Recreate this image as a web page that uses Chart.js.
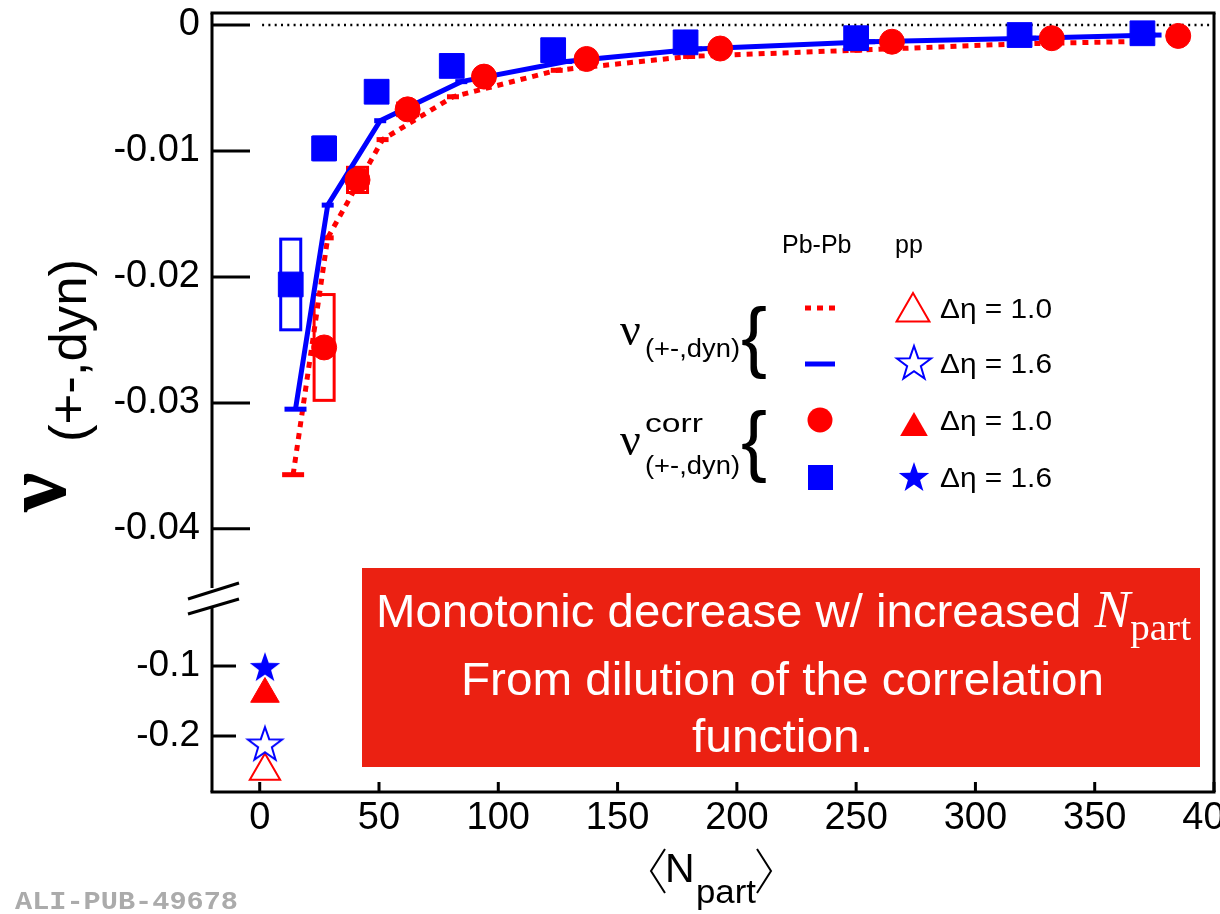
<!DOCTYPE html>
<html>
<head>
<meta charset="utf-8">
<script src="https://cdn.jsdelivr.net/npm/chart.js@4.4.0/dist/chart.umd.min.js"></script>
<style>
  html, body { margin: 0; padding: 0; background: #fff; }
  #wrap { position: relative; width: 1220px; height: 914px; }
</style>
</head>
<body>
<div id="wrap"><canvas id="chart" width="1220" height="914"></canvas></div>
<script>
// Pb-Pb, nu_dyn, delta eta = 1.0 (red dotted line)
const nDynEta10 = [14, 28.5, 51.5, 81, 124.5, 180, 250, 318, 370];
const vDynEta10 = [-0.0357, -0.0169, -0.0091, -0.0057, -0.0036, -0.0025, -0.0020, -0.0015, -0.0013];
// Pb-Pb, nu_dyn, delta eta = 1.6 (blue solid line)
const nDynEta16 = [15, 28.5, 50.5, 84.5, 128.5, 183, 255.5, 323, 375.5];
const vDynEta16 = [-0.0305, -0.0143, -0.0076, -0.0045, -0.0029, -0.0019, -0.00133, -0.00105, -0.0008];
// Pb-Pb, nu_dyn corr, delta eta = 1.0 (red circles) + systematic half heights
const nCorrEta10 = [27, 41, 62, 94, 137, 193, 265, 332, 385];
const vCorrEta10 = [-0.0256, -0.0123, -0.0067, -0.0041, -0.0027, -0.00187, -0.00133, -0.00105, -0.00087];
const sysCorrEta10 = [0.0042, 0.001, 0.0005, 0.0003, 0.0002, 0.00015, 0.0001, 0.0001, 0.0001];
// Pb-Pb, nu_dyn corr, delta eta = 1.6 (blue squares)
const nCorrEta16 = [13, 27, 49, 80.5, 123, 178.5, 250, 318.5, 370];
const vCorrEta16 = [-0.0206, -0.0098, -0.0053, -0.00325, -0.0020, -0.00138, -0.00105, -0.0008, -0.00066];
const sysCorrEta16 = [0.0036, 0.0009, 0.0004, 0.0003, 0.0002, 0.00015, 0.0001, 0.0001, 0.0001];
// pp points (lower panel)
const nPP = [2.2];
const ppDynEta10 = [-0.25];   // open triangle
const ppDynEta16 = [-0.213];  // open star
const ppCorrEta10 = [-0.14];  // filled triangle
const ppCorrEta16 = [-0.103]; // filled star
// zero reference line
const zeroN = [1, 400];
const zeroV = [0, 0];

const xTicks = [0, 50, 100, 150, 200, 250, 300, 350, 400];
const upTicks = [0, -0.01, -0.02, -0.03, -0.04];
const upLabels = ['0', '-0.01', '-0.02', '-0.03', '-0.04'];
const lowTicks = [-0.1, -0.2];
const lowLabels = ['-0.1', '-0.2'];

const RED = '#ff0000';
const BLUE = '#0000ff';

const pts = (xs, ys) => xs.map((x, i) => ({ x: x, y: ys[i] }));

function starPath(g, cx, cy, R, r) {
  g.beginPath();
  for (let i = 0; i < 10; i++) {
    const rad = i % 2 ? r : R;
    const a = -Math.PI / 2 + i * Math.PI / 5;
    const px = cx + rad * Math.cos(a), py = cy + rad * Math.sin(a);
    if (i) g.lineTo(px, py); else g.moveTo(px, py);
  }
  g.closePath();
}
function starImage(R, filled) {
  const c = document.createElement('canvas');
  const s = Math.ceil(R * 2 + 6);
  c.width = c.height = s;
  const g = c.getContext('2d');
  starPath(g, s / 2, s / 2, R, R * 0.4);
  if (filled) { g.fillStyle = BLUE; g.fill(); }
  else { g.strokeStyle = BLUE; g.lineWidth = 2; g.stroke(); }
  return c;
}
function triPath(ctx, cx, cy, r) {
  ctx.beginPath();
  ctx.moveTo(cx, cy - r);
  ctx.lineTo(cx + r * 0.866, cy + r / 2);
  ctx.lineTo(cx - r * 0.866, cy + r / 2);
  ctx.closePath();
}
function seg(ctx, x1, y1, x2, y2) {
  ctx.beginPath(); ctx.moveTo(x1, y1); ctx.lineTo(x2, y2); ctx.stroke();
}
// draw text squeezed/stretched to a given width
function fitText(ctx, text, x, y, w) {
  const m = ctx.measureText(text).width;
  ctx.save();
  ctx.translate(x, y);
  ctx.scale(w / m, 1);
  ctx.fillText(text, 0, 0);
  ctx.restore();
}

const decor = {
  id: 'decor',
  beforeDatasetsDraw(chart) {
    const ctx = chart.ctx, xs = chart.scales.x, yu = chart.scales.yUp;
    ctx.save();
    ctx.lineWidth = 3;
    const box = (n, v, s, color) => {
      const x1 = xs.getPixelForValue(n - 4.2), x2 = xs.getPixelForValue(n + 4.2);
      const y1 = yu.getPixelForValue(v + s), y2 = yu.getPixelForValue(v - s);
      ctx.strokeStyle = color;
      ctx.strokeRect(x1, y1, x2 - x1, y2 - y1);
    };
    nCorrEta10.forEach((n, i) => box(n, vCorrEta10[i], sysCorrEta10[i], RED));
    nCorrEta16.forEach((n, i) => box(n, vCorrEta16[i], sysCorrEta16[i], BLUE));
    ctx.restore();
  },
  afterDraw(chart) {
    const ctx = chart.ctx, ca = chart.chartArea;
    const xs = chart.scales.x, yu = chart.scales.yUp, yl = chart.scales.yLow;
    ctx.save();
    ctx.strokeStyle = '#000';
    ctx.lineWidth = 3;
    // frame
    seg(ctx, ca.left - 1.5, ca.top, ca.right + 1.5, ca.top);
    seg(ctx, ca.right, ca.top, ca.right, ca.bottom);
    seg(ctx, ca.left - 1.5, ca.bottom, ca.right + 1.5, ca.bottom);
    // left axis with break
    const yb = yu.bottom;
    seg(ctx, ca.left, ca.top, ca.left, yb - 58);
    seg(ctx, ca.left, yb - 39, ca.left, ca.bottom);
    seg(ctx, ca.left - 24, yb - 47, ca.left + 27, yb - 63);
    seg(ctx, ca.left - 24, yb - 32, ca.left + 27, yb - 47);
    // inward ticks
    upTicks.forEach(v => { const y = yu.getPixelForValue(v); seg(ctx, ca.left, y, ca.left + 38, y); });
    lowTicks.forEach(v => { const y = yl.getPixelForValue(v); seg(ctx, ca.left, y, ca.left + 24, y); });
    xTicks.forEach(v => { const x = xs.getPixelForValue(v); seg(ctx, x, ca.bottom, x, ca.bottom - 10); });

    ctx.fillStyle = '#000';
    ctx.textBaseline = 'alphabetic';
    ctx.textAlign = 'left';
    // y axis title
    ctx.save();
    ctx.translate(65, 512);
    ctx.rotate(-Math.PI / 2);
    ctx.font = 'bold 88px "Liberation Serif"';
    ctx.fillText('\u03bd', 0, 0);
    ctx.restore();
    ctx.save();
    ctx.translate(86, 442);
    ctx.rotate(-Math.PI / 2);
    ctx.font = '52px "Liberation Sans"';
    fitText(ctx, '(+-,dyn)', 0, 0, 183);
    ctx.restore();

    // x axis title <N_part>
    ctx.lineWidth = 2;
    ctx.beginPath(); ctx.moveTo(665, 849); ctx.lineTo(651, 871); ctx.lineTo(665, 893); ctx.stroke();
    ctx.beginPath(); ctx.moveTo(757, 849); ctx.lineTo(771, 871); ctx.lineTo(757, 893); ctx.stroke();
    ctx.font = '41px "Liberation Sans"';
    ctx.fillText('N', 665, 882);
    ctx.font = '33px "Liberation Sans"';
    fitText(ctx, 'part', 696, 903, 60);

    // legend
    ctx.font = '25px "Liberation Sans"';
    ctx.fillText('Pb-Pb', 782, 253);
    ctx.fillText('pp', 895, 253);
    ctx.font = '27px "Liberation Sans"';
    const rowsY = [308, 363, 420, 477];
    const txt = ['\u0394\u03b7 = 1.0', '\u0394\u03b7 = 1.6', '\u0394\u03b7 = 1.0', '\u0394\u03b7 = 1.6'];
    rowsY.forEach((y, i) => fitText(ctx, txt[i], 940, y + 10, 112));
    // column 1 markers
    ctx.lineWidth = 5;
    ctx.strokeStyle = RED;
    ctx.setLineDash([6, 6]);
    seg(ctx, 805, 308, 839, 308);
    ctx.setLineDash([]);
    ctx.strokeStyle = BLUE;
    seg(ctx, 805, 364, 835, 364);
    ctx.fillStyle = RED;
    ctx.beginPath(); ctx.arc(820, 420, 12.5, 0, Math.PI * 2); ctx.fill();
    ctx.fillStyle = BLUE;
    ctx.fillRect(808, 465, 25, 25);
    // column 2 markers
    ctx.lineWidth = 2;
    ctx.strokeStyle = RED;
    triPath(ctx, 913, 312, 19); ctx.stroke();
    ctx.fillStyle = RED;
    triPath(ctx, 914, 428, 16); ctx.fill();
    ctx.strokeStyle = BLUE;
    starPath(ctx, 914, 364, 18, 7.2); ctx.stroke();
    ctx.fillStyle = BLUE;
    starPath(ctx, 914, 478, 16, 6.4); ctx.fill();
    // braces and nu labels
    ctx.fillStyle = '#000';
    ctx.textBaseline = 'middle';
    ctx.font = '78px "Liberation Sans"';
    ctx.fillText('{', 741, 341);
    ctx.fillText('{', 741, 445);
    ctx.textBaseline = 'alphabetic';
    ctx.font = '46px "Liberation Serif"';
    ctx.fillText('\u03bd', 620, 345);
    ctx.fillText('\u03bd', 620, 455);
    ctx.font = '26px "Liberation Sans"';
    fitText(ctx, '(+-,dyn)', 645, 357, 95);
    fitText(ctx, '(+-,dyn)', 645, 474, 95);
    fitText(ctx, 'corr', 645, 432, 58);

    // annotation box
    ctx.fillStyle = '#eb2112';
    ctx.fillRect(362, 568, 838, 199);
    ctx.fillStyle = '#fff';
    const s1 = 'Monotonic decrease w/ increased ';
    ctx.font = '46px "Liberation Sans"';
    const w1 = ctx.measureText(s1).width;
    ctx.font = 'italic 52px "Liberation Serif"';
    const wN = ctx.measureText('N').width;
    ctx.font = '38px "Liberation Serif"';
    const wP = ctx.measureText('part').width;
    const k = 815 / (w1 + wN + wP);
    ctx.save();
    ctx.translate(376, 0);
    ctx.scale(k, 1);
    ctx.font = '46px "Liberation Sans"';
    ctx.fillText(s1, 0, 627);
    ctx.font = 'italic 52px "Liberation Serif"';
    ctx.fillText('N', w1, 627);
    ctx.font = '38px "Liberation Serif"';
    ctx.fillText('part', w1 + wN, 640);
    ctx.restore();
    ctx.font = '46px "Liberation Sans"';
    fitText(ctx, 'From dilution of the correlation', 461, 695, 643);
    fitText(ctx, 'function.', 692, 752, 181);

    // watermark
    ctx.fillStyle = '#ababab';
    ctx.font = 'bold 26px "Liberation Mono"';
    fitText(ctx, 'ALI-PUB-49678', 15, 909, 223);
    ctx.restore();
  }
};

Chart.defaults.font.family = '"Liberation Sans", Arial, sans-serif';
Chart.defaults.color = '#000';

new Chart(document.getElementById('chart').getContext('2d'), {
  type: 'scatter',
  data: {
    datasets: [
      {
        label: 'pp corr 1.6',
        data: pts(nPP, ppCorrEta16),
        yAxisID: 'yLow',
        pointStyle: starImage(16, true),
        pointRadius: 16
      },
      {
        label: 'pp corr 1.0',
        data: pts(nPP, ppCorrEta10),
        yAxisID: 'yLow',
        pointStyle: 'triangle',
        pointRadius: 16.5,
        pointBackgroundColor: RED,
        pointBorderColor: RED,
        pointBorderWidth: 1
      },
      {
        label: 'pp 1.6',
        data: pts(nPP, ppDynEta16),
        yAxisID: 'yLow',
        pointStyle: starImage(18, false),
        pointRadius: 18
      },
      {
        label: 'pp 1.0',
        data: pts(nPP, ppDynEta10),
        yAxisID: 'yLow',
        pointStyle: 'triangle',
        pointRadius: 17.5,
        pointBackgroundColor: 'rgba(0,0,0,0)',
        pointBorderColor: RED,
        pointBorderWidth: 2
      },
      {
        label: 'Pb-Pb corr 1.0',
        data: pts(nCorrEta10, vCorrEta10),
        yAxisID: 'yUp',
        pointStyle: 'circle',
        pointRadius: 12.5,
        pointBackgroundColor: RED,
        pointBorderColor: RED,
        pointBorderWidth: 1
      },
      {
        label: 'Pb-Pb corr 1.6',
        data: pts(nCorrEta16, vCorrEta16),
        yAxisID: 'yUp',
        pointStyle: 'rect',
        pointRadius: 17.5,
        pointBackgroundColor: BLUE,
        pointBorderColor: BLUE,
        pointBorderWidth: 1
      },
      {
        label: 'Pb-Pb 1.6',
        data: pts(nDynEta16, vDynEta16),
        yAxisID: 'yUp',
        showLine: true,
        borderColor: BLUE,
        borderWidth: 5,
        tension: 0,
        pointStyle: 'line',
        pointRadius: c => c.dataIndex === 0 ? 11 : 6,
        pointBorderColor: BLUE,
        pointBorderWidth: 5
      },
      {
        label: 'Pb-Pb 1.0',
        data: pts(nDynEta10, vDynEta10),
        yAxisID: 'yUp',
        showLine: true,
        borderColor: RED,
        borderWidth: 5,
        borderDash: [6, 6],
        tension: 0,
        pointStyle: 'line',
        pointRadius: c => c.dataIndex === 0 ? 11 : 6,
        pointBorderColor: RED,
        pointBorderWidth: 5
      },
      {
        label: 'zero',
        data: pts(zeroN, zeroV),
        yAxisID: 'yUp',
        showLine: true,
        borderColor: '#000',
        borderWidth: 2.5,
        borderDash: [2, 4.3],
        pointRadius: 0
      }
    ]
  },
  options: {
    responsive: false,
    animation: false,
    layout: { autoPadding: false, padding: { top: 13, right: 6, left: 0, bottom: 0 } },
    plugins: { legend: { display: false }, tooltip: { enabled: false } },
    scales: {
      x: {
        type: 'linear',
        position: 'bottom',
        min: -20,
        max: 400,
        grid: { display: false, drawTicks: false },
        border: { display: false },
        afterBuildTicks: s => { s.ticks = xTicks.map(v => ({ value: v })); },
        afterFit: s => { s.height = 122; s.paddingLeft = 0; s.paddingRight = 0; },
        ticks: { font: { size: 38 }, padding: 4, maxRotation: 0, autoSkip: false }
      },
      yLow: {
        type: 'linear',
        position: 'left',
        stack: 'v',
        stackWeight: 146,
        min: -0.28,
        max: -0.0714,
        grid: { display: false, drawTicks: false },
        border: { display: false },
        afterBuildTicks: s => { s.ticks = lowTicks.map(v => ({ value: v })); },
        afterFit: s => { s.width = 212; s.paddingTop = 0; s.paddingBottom = 0; },
        ticks: { font: { size: 37 }, padding: 12, callback: v => lowLabels[lowTicks.indexOf(v)] }
      },
      yUp: {
        type: 'linear',
        position: 'left',
        stack: 'v',
        stackWeight: 633,
        min: -0.0493,
        max: 0.00095,
        grid: { display: false, drawTicks: false },
        border: { display: false },
        afterBuildTicks: s => { s.ticks = upTicks.map(v => ({ value: v })); },
        afterFit: s => { s.width = 212; s.paddingTop = 0; s.paddingBottom = 0; },
        ticks: { font: { size: 38 }, padding: 12, callback: v => upLabels[upTicks.indexOf(v)] }
      }
    }
  },
  plugins: [decor]
});
</script>
</body>
</html>
